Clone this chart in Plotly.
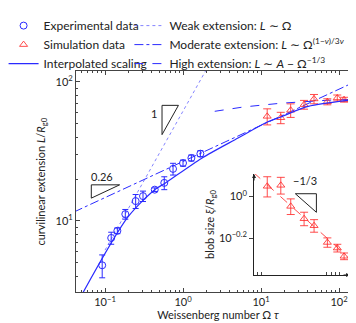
import numpy as np
import plotly.graph_objects as go

# ---------------------------------------------------------------------------
# data
# ---------------------------------------------------------------------------
exp_omega = [0.092, 0.12, 0.144, 0.182, 0.247, 0.307, 0.434, 0.575, 0.745, 1.0, 1.28, 1.67]
exp_L = [4.8, 7.55, 8.5, 11.2, 13.9, 15.1, 16.8, 18.8, 23.7, 26.1, 28.4, 30.5]
exp_err = [0.9, 0.75, 0.4, 0.9, 1.6, 1.3, 0.5, 2.0, 2.3, 1.3, 1.4, 1.5]

sim_omega = [12.0, 17.9, 24.0, 35.6, 47.8, 70.8, 95.0, 116.0]
sim_L = [56.6, 55.3, 62.6, 68.7, 75.5, 72.1, 76.8, 74.6]
sim_err = [7.5, 5.2, 7.0, 5.0, 5.8, 3.6, 3.8, 3.0]

blob_size = [1.117, 1.129, 0.895, 0.781, 0.723, 0.601, 0.565, 0.516]
blob_err = [0.124, 0.104, 0.077, 0.058, 0.050, 0.031, 0.024, 0.019]

# interpolated scaling curve
interp_omega = [0.05, 0.197, 0.434, 0.582, 1.72, 5.07, 12.05, 17.9, 40.1, 193.0]
interp_L = [2.92, 10.7, 16.8, 18.6, 28.2, 39.5, 51.5, 56.0, 66.7, 75.5]

# scaling laws
weak_pref, weak_span = 61.7, [0.1, 2.2]
mod_pref, mod_exp, mod_span = 26.8, 0.26, [0.04, 200.0]
high_A, high_B, high_span = 79.9, 25.1, [2.55, 200.0]
blob_pref, blob_exp, blob_span = 2.6, -1.0 / 3.0, [8.0, 140.0]

BLUE = '#2a2aff'
RED = 'rgba(255,45,45,0.85)'
FONT = 'Lato'

exp_marker = dict(symbol='circle-open', size=7, color=BLUE, line=dict(width=1))
sim_marker = dict(symbol='triangle-up-open', size=7, color=RED, line=dict(width=1))

fig = go.Figure()

# --- scaling lines -----------------------------------------------------------
w = np.array(weak_span)
fig.add_trace(go.Scatter(x=w, y=weak_pref * w, mode='lines', legend='legend2',
                         name='Weak extension: <i>L</i> ∼ Ω',
                         line=dict(color='rgba(80,80,255,0.7)', width=1, dash='dot')))
m = np.logspace(np.log10(mod_span[0]), np.log10(mod_span[1]), 50)
fig.add_trace(go.Scatter(x=m, y=mod_pref * m ** mod_exp, mode='lines', legend='legend2',
                         name='Moderate extension: <i>L</i> ∼ Ω<sup>(1−<i>ν</i>)/3<i>ν</i></sup>',
                         line=dict(color=BLUE, width=1, dash='dashdot')))
h = np.logspace(np.log10(high_span[0]), np.log10(high_span[1]), 60)
fig.add_trace(go.Scatter(x=h, y=high_A - high_B * h ** (-1.0 / 3.0), mode='lines', legend='legend2',
                         name='High extension: <i>L</i> ∼ <i>A</i> − Ω<sup>−1/3</sup>',
                         line=dict(color=BLUE, width=1, dash='dash')))

# --- data --------------------------------------------------------------------
fig.add_trace(go.Scatter(x=exp_omega, y=exp_L, mode='markers', showlegend=False, marker=exp_marker,
                         error_y=dict(type='data', array=exp_err, color=BLUE, thickness=1, width=3)))
fig.add_trace(go.Scatter(x=sim_omega, y=sim_L, mode='markers', showlegend=False, marker=sim_marker,
                         error_y=dict(type='data', array=sim_err, color=RED, thickness=1, width=4)))
fig.add_trace(go.Scatter(x=interp_omega, y=interp_L, mode='lines', showlegend=False,
                         line=dict(color=BLUE, width=1.2, shape='spline', smoothing=0.8)))

# legend entries (no error bars in the key)
fig.add_trace(go.Scatter(x=[None], y=[None], mode='markers', name='Experimental data',
                         legend='legend', marker=exp_marker))
fig.add_trace(go.Scatter(x=[None], y=[None], mode='markers', name='Simulation data',
                         legend='legend', marker=sim_marker))
fig.add_trace(go.Scatter(x=[None], y=[None], mode='lines', name='Interpolated scaling',
                         legend='legend', line=dict(color=BLUE, width=1.2)))

# --- slope triangles (main axes) -----------------------------------------------
tri_col = dict(color='#222', width=1)
fig.add_trace(go.Scatter(x=[0.538, 0.538, 0.874, 0.538], y=[41.8, 67.9, 67.9, 41.8], mode='lines',
                         line=tri_col, showlegend=False, hoverinfo='skip'))
fig.add_trace(go.Scatter(x=[0.0667, 0.0667, 0.154, 0.0667], y=[14.6, 18.2, 18.2, 14.6], mode='lines',
                         line=tri_col, showlegend=False, hoverinfo='skip'))

# --- inset -------------------------------------------------------------------
b = np.logspace(np.log10(blob_span[0]), np.log10(blob_span[1]), 30)
fig.add_trace(go.Scatter(x=b, y=blob_pref * b ** blob_exp, mode='lines', xaxis='x2', yaxis='y2',
                         showlegend=False, line=dict(color=RED, width=1, dash='dash')))
fig.add_trace(go.Scatter(x=sim_omega, y=blob_size, mode='markers', xaxis='x2', yaxis='y2',
                         showlegend=False, marker=sim_marker,
                         error_y=dict(type='data', array=blob_err, color=RED, thickness=1, width=4)))
fig.add_trace(go.Scatter(x=[27.5, 51.2, 51.2, 27.5], y=[1.029, 1.029, 0.838, 1.029], mode='lines',
                         xaxis='x2', yaxis='y2', line=tri_col, showlegend=False, hoverinfo='skip'))

minor_x = [k * 10.0 ** e for e in (-2, -1, 0, 1, 2) for k in range(2, 10)]
minor_y = [k * 10.0 ** e for e in (0, 1, 2) for k in range(2, 10)]

axis_common = dict(type='log', showline=True, linecolor='#444', linewidth=1, mirror='allticks',
                   ticks='inside', ticklen=4, tickcolor='#444', showgrid=False, zeroline=False,
                   tickfont=dict(size=11, color='#222'))

legend_common = dict(y=1.271, xanchor='left', yanchor='top', bgcolor='rgba(0,0,0,0)',
                     font=dict(size=12), itemwidth=30)

fig.update_layout(
    width=356, height=323,
    margin=dict(l=68, r=4, t=63, b=39, autoexpand=False),
    paper_bgcolor='white', plot_bgcolor='white',
    font=dict(family=FONT, size=11, color='#222'),
    xaxis=dict(axis_common, range=[-1.372, 2.269],
               tickvals=[0.1, 1, 10, 100],
               ticktext=['10<sup>−1</sup>', '10<sup>0</sup>', '10<sup>1</sup>', '10<sup>2</sup>'],
               minor=dict(tickmode='array', tickvals=minor_x, ticks='inside', ticklen=2, tickcolor='#444'),
               title=dict(text='Weissenberg number Ω <i>τ</i>', font=dict(size=11), standoff=4)),
    yaxis=dict(axis_common, range=[0.489, 2.079],
               tickvals=[10, 100],
               ticktext=['10<sup>1</sup>', '10<sup>2</sup>'],
               minor=dict(tickmode='array', tickvals=minor_y, ticks='inside', ticklen=2, tickcolor='#444')),
    xaxis2=dict(domain=[0.627, 0.965], anchor='y2', type='log', range=[0.910, 2.141],
                showline=True, linecolor='#222', linewidth=1, showgrid=False, zeroline=False,
                ticks='inside', ticklen=3, tickcolor='#444', showticklabels=False,
                tickvals=[9, 10, 70, 80, 90, 100]),
    yaxis2=dict(domain=[0.077, 0.534], anchor='x2', type='log', range=[-0.377, 0.107],
                showline=True, linecolor='#222', linewidth=1, showgrid=False, zeroline=False,
                ticks='outside', ticklen=4, tickcolor='#444',
                tickvals=[1.0, 10 ** -0.2],
                ticktext=['10<sup>0</sup>', '10<sup>−0.2</sup>'],
                tickfont=dict(size=11, color='#222'),
                title=dict(text='blob size <i>ξ</i>/<i>R</i><sub>g0</sub>', font=dict(size=11), standoff=2)),
    legend=dict(legend_common, x=-0.255),
    legend2=dict(legend_common, x=0.188),
    annotations=[
        dict(x=-0.123, y=0.5, xref='paper', yref='paper', xanchor='center', yanchor='middle',
             textangle=-90, showarrow=False,
             text='curvilinear extension <i>L</i>/<i>R</i><sub>g0</sub>', font=dict(size=11)),
        dict(x=np.log10(0.421), y=np.log10(58.9), xref='x', yref='y', text='1', showarrow=False,
             font=dict(size=11)),
        dict(x=np.log10(0.0915), y=np.log10(20.8), xref='x', yref='y', text='0.26', showarrow=False,
             font=dict(size=11)),
        dict(x=np.log10(37.0), y=np.log10(1.19), xref='x2', yref='y2', text='−1/3', showarrow=False,
             font=dict(size=11)),
        # inset axis arrows
        dict(x=0, y=1, xref='x2 domain', yref='y2 domain', ax=0, ay=8, showarrow=True,
             arrowhead=2, arrowsize=0.8, arrowwidth=1, arrowcolor='#222', text=''),
        dict(x=1, y=0, xref='x2 domain', yref='y2 domain', ax=-8, ay=0, showarrow=True,
             arrowhead=2, arrowsize=0.8, arrowwidth=1, arrowcolor='#222', text=''),
    ],
)

fig.write_html('out.html')
